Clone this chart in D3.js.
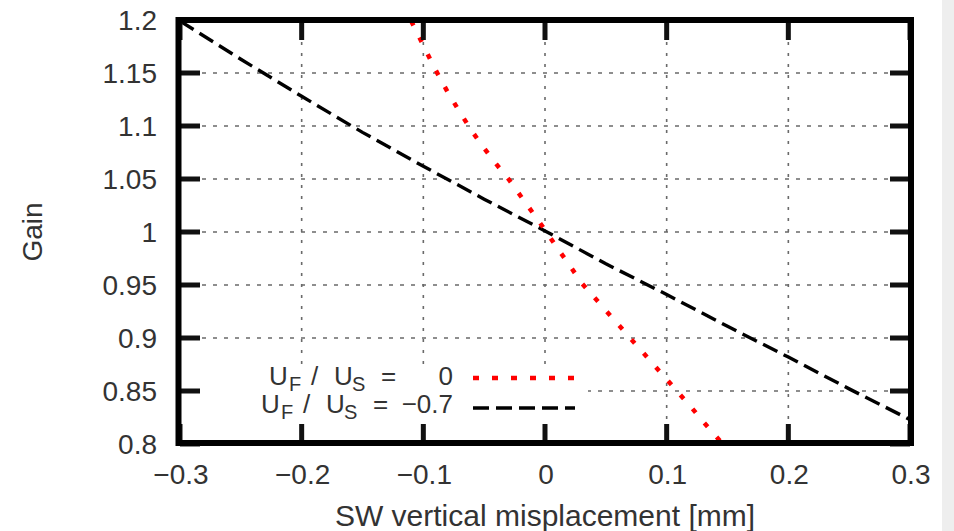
<!DOCTYPE html>
<html>
<head>
<meta charset="utf-8">
<script src="https://cdn.jsdelivr.net/npm/d3@7"></script>
<style>
  html, body { margin: 0; padding: 0; background: #fff; }
  svg { display: block; font-family: "Liberation Sans", Arial, sans-serif; }
</style>
</head>
<body>
<svg id="chart" width="954" height="531"></svg>
<script>
// Axis ticks
const xTicks = [-0.3, -0.2, -0.1, 0, 0.1, 0.2, 0.3];
const xTickLabels = ["\u22120.3", "\u22120.2", "\u22120.1", "0", "0.1", "0.2", "0.3"];
const yTicks = [0.8, 0.85, 0.9, 0.95, 1.0, 1.05, 1.1, 1.15, 1.2];
const yTickLabels = ["0.8", "0.85", "0.9", "0.95", "1", "1.05", "1.1", "1.15", "1.2"];

// Gain vs. SW vertical misplacement, U_F / U_S = 0
const ratio0X = [-0.11, -0.10, -0.09, -0.08, -0.07, -0.06, -0.05, -0.04, -0.03, -0.02, -0.01, 0.0,
                 0.01, 0.02, 0.03, 0.04, 0.05, 0.06, 0.07, 0.08, 0.09, 0.10, 0.11, 0.12, 0.13, 0.14, 0.15];
const ratio0Gain = [1.199, 1.176, 1.153, 1.132, 1.113, 1.095, 1.079, 1.064, 1.050, 1.034, 1.018, 1.002,
                    0.985, 0.969, 0.952, 0.939, 0.926, 0.913, 0.900, 0.887, 0.874, 0.861, 0.848, 0.835, 0.821, 0.808, 0.795];

// Gain vs. SW vertical misplacement, U_F / U_S = -0.7
const ratioM07X = [-0.3, -0.25, -0.2, -0.15, -0.1, -0.05, 0.0, 0.05, 0.1, 0.15, 0.2, 0.25, 0.3];
const ratioM07Gain = [1.199, 1.163, 1.128, 1.094, 1.062, 1.031, 1.001, 0.970, 0.941, 0.911, 0.882, 0.852, 0.823];

// Legend entries
const legendValues = ["0", "\u22120.7"];
const seriesColors = ["#ff0000", "#000000"];

const svg = d3.select("#chart");
const W = 954, H = 531;

// Light strip at the right edge of the canvas
svg.append("rect").attr("x", 942).attr("y", 0).attr("width", W - 942).attr("height", H).attr("fill", "#eeeeee");

const x = d3.scaleLinear().domain([-0.3, 0.3]).range([180, 910]);
const y = d3.scaleLinear().domain([0.8, 1.2]).range([444, 20]);
const [x0, x1] = x.range();
const [yb, yt] = y.range();

const defs = svg.append("defs");
defs.append("clipPath").attr("id", "plotClip")
  .append("rect").attr("x", x0).attr("y", yt).attr("width", x1 - x0).attr("height", yb - yt);

// Grid lines
const grid = svg.append("g").attr("stroke", "#6a6a6a").attr("stroke-width", 1.6);
grid.selectAll("line.gx").data(xTicks.slice(1, -1)).join("line")
  .attr("x1", d => x(d)).attr("x2", d => x(d))
  .attr("y1", yt).attr("y2", yb)
  .attr("stroke-dasharray", "3,8");
grid.selectAll("line.gy").data(yTicks.slice(1, -1)).join("line")
  .attr("x1", x0).attr("x2", x1)
  .attr("y1", d => y(d)).attr("y2", d => y(d))
  .attr("stroke-dasharray", "4,7");

// Key box (opaque, hides grid)
const keyX = x0, keyY = 364, keyW = 588 - x0, keyH = 59;
svg.append("rect").attr("x", keyX).attr("y", keyY).attr("width", keyW).attr("height", keyH).attr("fill", "#fff");

// Series
const line = d3.line().x(d => x(d[0])).y(d => y(d[1]));
const plot = svg.append("g").attr("clip-path", "url(#plotClip)");
plot.append("path")
  .datum(ratioM07X.map((v, i) => [v, ratioM07Gain[i]]))
  .attr("d", line).attr("fill", "none")
  .attr("stroke", seriesColors[1]).attr("stroke-width", 3.4)
  .attr("stroke-dasharray", "16,7");
plot.append("path")
  .datum(ratio0X.map((v, i) => [v, ratio0Gain[i]]))
  .attr("d", line).attr("fill", "none")
  .attr("stroke", seriesColors[0]).attr("stroke-width", 4.5)
  .attr("stroke-dasharray", "5,13.5");

// Ticks on all four sides, pointing inward
const ticks = svg.append("g").attr("stroke", "#111").attr("stroke-width", 5);
const tl = 20;
ticks.selectAll("line.tb").data(xTicks).join("line")
  .attr("x1", d => x(d)).attr("x2", d => x(d)).attr("y1", yb).attr("y2", yb - tl);
ticks.selectAll("line.tt").data(xTicks).join("line")
  .attr("x1", d => x(d)).attr("x2", d => x(d)).attr("y1", yt).attr("y2", yt + tl);
ticks.selectAll("line.tl").data(yTicks).join("line")
  .attr("x1", x0).attr("x2", x0 + tl).attr("y1", d => y(d)).attr("y2", d => y(d));
ticks.selectAll("line.tr").data(yTicks).join("line")
  .attr("x1", x1).attr("x2", x1 - tl).attr("y1", d => y(d)).attr("y2", d => y(d));

// Frame
svg.append("rect").attr("x", x0 - 1.5).attr("y", yt).attr("width", x1 - x0 + 2.5).attr("height", yb - yt - 1)
  .attr("fill", "none").attr("stroke", "#000").attr("stroke-width", 6);

// Tick labels
const labColor = "#333";
svg.append("g").selectAll("text").data(xTicks).join("text")
  .attr("x", d => x(d) + 1).attr("y", 484)
  .attr("text-anchor", "middle").attr("font-size", 28).attr("fill", labColor)
  .text((d, i) => xTickLabels[i]);
svg.append("g").selectAll("text").data(yTicks).join("text")
  .attr("x", 157).attr("y", d => y(d)).attr("dy", "0.36em")
  .attr("text-anchor", "end").attr("font-size", 28).attr("fill", labColor)
  .text((d, i) => yTickLabels[i]);

// Axis titles
svg.append("text").attr("x", 545).attr("y", 526).attr("text-anchor", "middle")
  .attr("font-size", 30).attr("fill", labColor).text("SW vertical misplacement [mm]");
svg.append("text").attr("transform", "translate(42,232) rotate(-90)").attr("text-anchor", "middle")
  .attr("font-size", 28).attr("fill", labColor).text("Gain");

// Key entries: label pieces placed at fixed offsets from the row start,
// value right-aligned against the line sample
const keyRows = [{ xStart: 269, yText: 385, ySample: 378 }, { xStart: 261, yText: 413, ySample: 408 }];
const pieces = [
  { t: "U", dx: 0, sub: false },
  { t: "F", dx: 20, sub: true },
  { t: "/", dx: 42, sub: false },
  { t: "U", dx: 65, sub: false },
  { t: "S", dx: 83, sub: true },
  { t: "=", dx: 112, sub: false }
];
keyRows.forEach((r, i) => {
  const g = svg.append("g").attr("fill", labColor);
  pieces.forEach(p => {
    g.append("text").attr("x", r.xStart + p.dx).attr("y", r.yText + (p.sub ? 6 : 0))
      .attr("font-size", p.sub ? 20 : 26).text(p.t);
  });
  g.append("text").attr("x", 453).attr("y", r.yText).attr("text-anchor", "end")
    .attr("font-size", 26).text(legendValues[i]);
  svg.append("line").attr("x1", 473).attr("x2", 575).attr("y1", r.ySample).attr("y2", r.ySample)
    .attr("stroke", seriesColors[i])
    .attr("stroke-width", i === 0 ? 4.5 : 3.4)
    .attr("stroke-dasharray", i === 0 ? "6,13" : "16,7");
});
</script>
</body>
</html>
